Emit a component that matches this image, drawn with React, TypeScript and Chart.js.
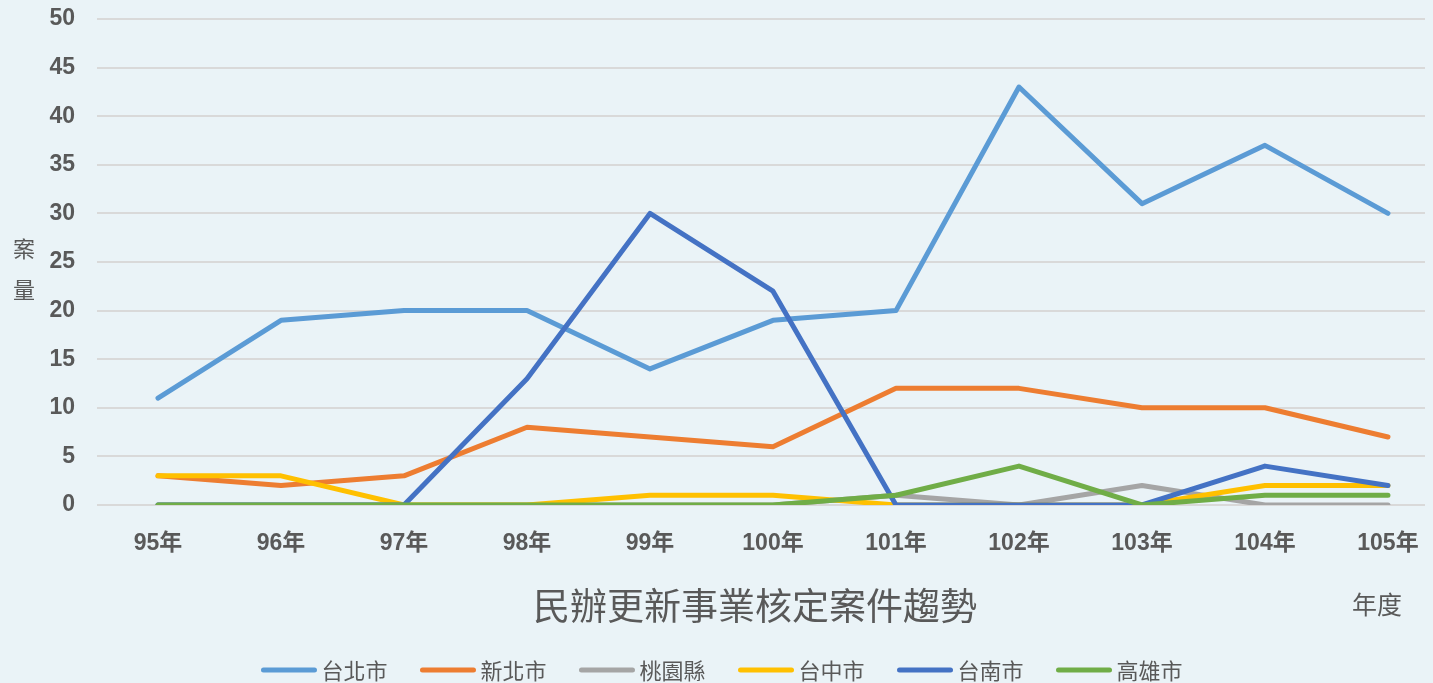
import React, { useEffect, useRef } from "react";
import { Chart, registerables } from "chart.js";

Chart.register(...registerables);

// ---- data ----
const years = ["95年", "96年", "97年", "98年", "99年", "100年", "101年", "102年", "103年", "104年", "105年"];
const taipei = [11, 19, 20, 20, 14, 19, 20, 43, 31, 37, 30];
const newTaipei = [3, 2, 3, 8, 7, 6, 12, 12, 10, 10, 7];
const taoyuan = [0, 0, 0, 0, 0, 0, 1, 0, 2, 0, 0];
const taichung = [3, 3, 0, 0, 1, 1, 0, 0, 0, 2, 2];
const tainan = [0, 0, 0, 13, 30, 22, 0, 0, 0, 4, 2];
const kaohsiung = [0, 0, 0, 0, 0, 0, 1, 4, 0, 1, 1];
const seriesNames = ["台北市", "新北市", "桃園縣", "台中市", "台南市", "高雄市"];
const seriesValues = [taipei, newTaipei, taoyuan, taichung, tainan, kaohsiung];
const seriesColors = ["#5B9BD5", "#ED7D31", "#A5A5A5", "#FFC000", "#4472C4", "#70AD47"];
const yMin = 0;
const yMax = 50;
const yStep = 5;
const chartTitle = "民辦更新事業核定案件趨勢";
const xAxisTitle = "年度";
const yAxisTitle = ["案", "量"];

const BG = "#EAF3F7";
const TEXT = "#595959";
const CJK = "'Noto Sans CJK TC', 'Noto Sans CJK SC', sans-serif";
const LATIN = "'Liberation Sans', Arial, 'Noto Sans CJK TC', sans-serif";

const W = 1433;
const H = 683;

const decorPlugin = {
  id: "decor",
  beforeDraw(chart: any) {
    const ctx = chart.ctx;
    ctx.save();
    ctx.fillStyle = BG;
    ctx.fillRect(0, 0, chart.width, chart.height);
    ctx.restore();
  },
  afterDraw(chart: any) {
    const ctx = chart.ctx;
    ctx.save();
    ctx.fillStyle = TEXT;
    ctx.textAlign = "center";
    ctx.textBaseline = "middle";
    // chart title (bottom)
    ctx.font = `37px ${CJK}`;
    ctx.fillText(chartTitle, 755, 606);
    // x axis title
    ctx.font = `25px ${CJK}`;
    ctx.fillText(xAxisTitle, 1377, 604);
    // y axis title (stacked)
    ctx.font = `22px ${CJK}`;
    ctx.fillText(yAxisTitle[0], 24, 249);
    ctx.fillText(yAxisTitle[1], 24, 290);
    // legend
    const lineLen = 55;
    const gap = 5;
    ctx.font = `22px ${CJK}`;
    const widths = seriesNames.map((n) => ctx.measureText(n).width);
    const itemGap = 33;
    const total = widths.reduce((a, w) => a + lineLen + gap + w, 0) + itemGap * (seriesNames.length - 1);
    let x = 722 - total / 2;
    const ly = 670;
    seriesNames.forEach((name, i) => {
      ctx.strokeStyle = seriesColors[i];
      ctx.lineWidth = 5;
      ctx.lineCap = "round";
      ctx.beginPath();
      ctx.moveTo(x + 2, ly);
      ctx.lineTo(x + lineLen - 2, ly);
      ctx.stroke();
      ctx.textAlign = "left";
      ctx.fillStyle = TEXT;
      ctx.fillText(name, x + lineLen + gap, ly + 1);
      x += lineLen + gap + widths[i] + itemGap;
    });
    ctx.restore();
  },
};

export default function App() {
  const ref = useRef<HTMLCanvasElement | null>(null);

  useEffect(() => {
    document.body.style.margin = "0";
    document.body.style.background = BG;
    if (!ref.current) return;
    const n = seriesNames.length;
    const chart = new Chart(ref.current, {
      type: "line",
      data: {
        datasets: seriesNames.map((name, i) => ({
          label: name,
          data: seriesValues[i].map((v, j) => ({ x: j, y: v })),
          borderColor: seriesColors[i],
          backgroundColor: seriesColors[i],
          borderWidth: 5,
          borderCapStyle: "round",
          borderJoinStyle: "round",
          pointRadius: 0,
          pointHoverRadius: 0,
          tension: 0,
          fill: false,
          order: n - 1 - i,
        })),
      },
      options: {
        animation: false,
        responsive: true,
        maintainAspectRatio: false,
        layout: { padding: { left: 0, right: 8, top: 19, bottom: 118 } },
        plugins: {
          legend: { display: false },
          title: { display: false },
          tooltip: { enabled: false },
        },
        scales: {
          x: {
            type: "linear",
            min: -0.496,
            max: 10.301,
            afterBuildTicks: (scale: any) => {
              scale.ticks = years.map((_, i) => ({ value: i }));
            },
            afterFit: (scale: any) => {
              scale.height = 60;
              scale.paddingLeft = 0;
              scale.paddingRight = 0;
            },
            ticks: {
              autoSkip: false,
              maxRotation: 0,
              padding: 25,
              color: TEXT,
              font: { family: LATIN, size: 23, weight: "bold" },
              callback: (v: any) => years[Math.round(Number(v))] ?? "",
            },
            grid: { display: false, drawTicks: false },
            border: { display: false },
          },
          y: {
            min: yMin,
            max: yMax,
            afterFit: (scale: any) => {
              scale.width = 97;
              scale.paddingTop = 0;
              scale.paddingBottom = 0;
            },
            ticks: {
              stepSize: yStep,
              padding: 22,
              color: TEXT,
              font: { family: LATIN, size: 23, weight: "bold" },
            },
            grid: { color: "#D9D9D9", lineWidth: 2, drawTicks: false },
            border: { display: false },
          },
        },
      },
      plugins: [decorPlugin],
    } as any);
    return () => chart.destroy();
  }, []);

  return (
    <div style={{ width: W, height: H, position: "relative", background: BG }}>
      <canvas ref={ref} />
    </div>
  );
}
